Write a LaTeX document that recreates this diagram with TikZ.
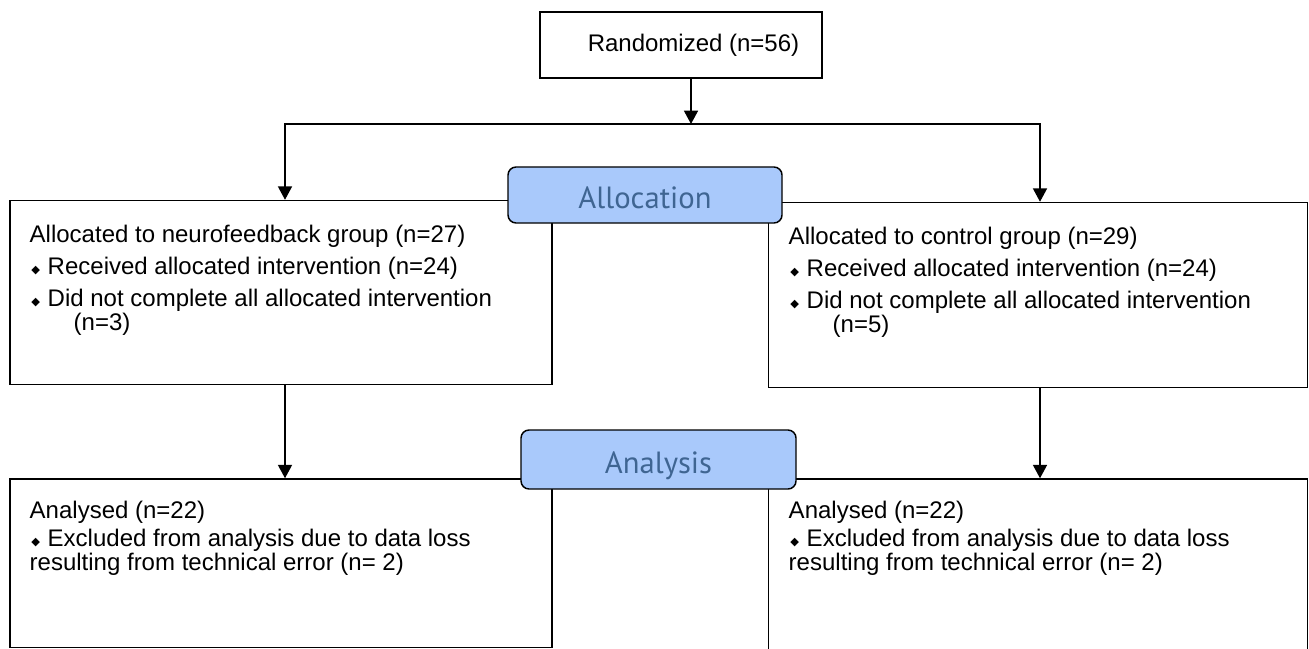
\documentclass[tikz,border=0pt]{standalone}
\usepackage{fontspec}
\setmainfont{Liberation Sans}
\newfontfamily\labfont{PT Sans}
\newfontfamily\symfont{DejaVu Sans}
\usetikzlibrary{arrows.meta}
\definecolor{phasefill}{HTML}{A9C9FB}
\definecolor{phasetext}{HTML}{3F6592}
\newcommand{\dmd}{\makebox[13.5pt][l]{\hspace{1.2pt}\raisebox{0.4pt}{\symfont\fontsize{8.5}{8.5}\selectfont ◆}}}

\begin{document}
\begin{tikzpicture}[x=0.75pt,y=-0.75pt,line width=1.1pt,
    every node/.style={font=\fontsize{18}{18}\selectfont},
    box/.style={draw,inner sep=0pt},
    phase/.style={draw,fill=phasefill,rounded corners=6pt,text=phasetext,
      text height=21pt,text depth=0pt,font=\labfont\fontsize{23}{23}\selectfont},
    txt/.style={anchor=base west,align=left,inner sep=0pt},
    arr/.style={-{Triangle[width=10.5pt,length=10pt]}}]
    \useasboundingbox (0,0) rectangle (1309,649);
    \clip (0,0) rectangle (1309,649);
    \node[box,minimum width=211.5pt,minimum height=49.5pt] (rand) at (681,45) {\hspace*{18.75pt}Randomized (n=56)};
    \node[box,minimum width=406.5pt,minimum height=138pt] (grpA) at (281,292.5) {};
    \node[box,minimum width=404.25pt,minimum height=138.75pt] (grpB) at (1038,295) {};
    \node[box,minimum width=406.5pt,minimum height=126.4pt] (anaA) at (281,563.25) {};
    \node[box,minimum width=404.25pt,minimum height=135.75pt] (anaB) at (1038,569.5) {};
    \node[txt] (grpAtxt) at (29,330) {Allocated to neurofeedback group (n=27)\\[6pt]
      \dmd Received allocated intervention (n=24)\\[6pt]
      \dmd Did not complete all allocated intervention\\
      \hspace*{33pt}(n=3)};
    \node[txt] (grpBtxt) at (788,332) {Allocated to control group (n=29)\\[6pt]
      \dmd Received allocated intervention (n=24)\\[6pt]
      \dmd Did not complete all allocated intervention\\
      \hspace*{33pt}(n=5)};
    \node[txt] (anaAtxt) at (29,570) {Analysed (n=22)\\[3pt]
      \dmd Excluded from analysis due to data loss\\
      resulting from technical error (n= 2)};
    \node[txt] (anaBtxt) at (788,570) {Analysed (n=22)\\[3pt]
      \dmd Excluded from analysis due to data loss\\
      resulting from technical error (n= 2)};
    \coordinate (split) at (691,124);
    \draw[arr] (rand.south -| split) -- (split);
    \draw[arr] (split) -| ([xshift=3pt]grpA.north);
    \draw[arr] (split) -| ([xshift=1.5pt]grpB.north);
    \draw[arr] ([xshift=3pt]grpA.south) -- ([xshift=3pt]anaA.north);
    \draw[arr] ([xshift=1.5pt]grpB.south) -- ([xshift=1.5pt]anaB.north);
    \node[phase,minimum width=205.5pt,minimum height=42pt] (alloc) at (645,195) {Allocation};
    \node[phase,minimum width=206.25pt,minimum height=44.25pt] (analysis) at (658.5,459.5) {Analysis};
\end{tikzpicture}
\end{document}
